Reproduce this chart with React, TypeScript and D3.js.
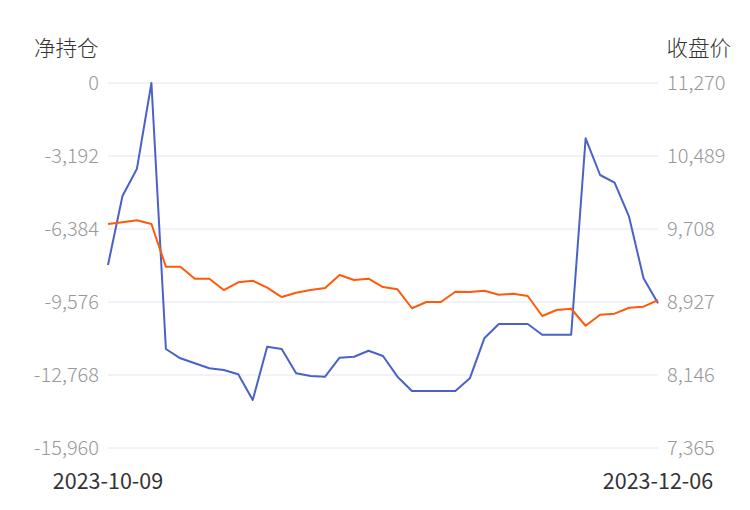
import React from "react";
import * as d3 from "d3";

const dates: string[] = [
  "2023-10-09","2023-10-10","2023-10-11","2023-10-12","2023-10-13","2023-10-16","2023-10-17","2023-10-18","2023-10-19","2023-10-20",
  "2023-10-23","2023-10-24","2023-10-25","2023-10-26","2023-10-27","2023-10-30","2023-10-31","2023-11-01","2023-11-02","2023-11-03",
  "2023-11-06","2023-11-07","2023-11-08","2023-11-09","2023-11-10","2023-11-13","2023-11-14","2023-11-15","2023-11-16","2023-11-17",
  "2023-11-20","2023-11-21","2023-11-22","2023-11-23","2023-11-24","2023-11-29","2023-11-30","2023-12-05","2023-12-06"
];

const netPosition: number[] = [
  -7958, -4941, -3747, 0, -11631, -12038, -12256, -12475, -12549, -12737,
  -13861, -11531, -11631, -12694, -12812, -12842, -12011, -11968, -11706, -11937,
  -12842, -13468, -13468, -13468, -13468, -12912, -11163, -10538, -10538, -10538,
  -11006, -11006, -11006, -2418, -4023, -4360, -5846, -8540, -9633
];

const closePrice: number[] = [
  9761, 9780, 9801, 9761, 9305, 9305, 9176, 9176, 9055, 9138,
  9155, 9080, 8980, 9026, 9055, 9077, 9216, 9162, 9176, 9087,
  9063, 8860, 8927, 8927, 9037, 9034, 9048, 9005, 9016, 8991,
  8777, 8841, 8855, 8673, 8791, 8802, 8866, 8877, 8948
];

const leftTicks: number[] = [0, -3192, -6384, -9576, -12768, -15960];
const rightTicks: number[] = [11270, 10489, 9708, 8927, 8146, 7365];

const W = 750, H = 510;
const L = 108, R = 658, T = 83, B = 448;

export default function App() {
  const x = d3.scalePoint<string>().domain(dates).range([L, R]);
  const yL = d3.scaleLinear().domain([-15960, 0]).range([B, T]);
  const yR = d3.scaleLinear().domain([7365, 11270]).range([B, T]);
  const f = d3.format(",");
  const fmt = (v: number) => f(v).replace("\u2212", "-");
  const lineL = d3.line<number>().x((_, i) => x(dates[i])!).y((d) => yL(d));
  const lineR = d3.line<number>().x((_, i) => x(dates[i])!).y((d) => yR(d));
  const font = "'Noto Sans CJK SC', 'Noto Sans', sans-serif";
  return (
    <svg width={W} height={H} style={{ position: "absolute", left: 0, top: 0 }} fontFamily={font}>
      <rect width={W} height={H} fill="#fff" />
      {leftTicks.map((t) => (
        <line key={t} x1={L} x2={R} y1={yL(t)} y2={yL(t)} stroke="#E0E6F1" strokeWidth={1} />
      ))}
      {leftTicks.map((t) => (
        <text key={"l" + t} x={99} y={yL(t)} dy="0.35em" textAnchor="end" fontSize={20} fill="#999" fontWeight={300}>
          {fmt(t)}
        </text>
      ))}
      {rightTicks.map((t) => (
        <text key={"r" + t} x={667} y={yR(t)} dy="0.35em" textAnchor="start" fontSize={20} fill="#999" fontWeight={300}>
          {fmt(t)}
        </text>
      ))}
      <text x={34} y={56} fontSize={21.5} fill="#333" fontWeight={300}>净持仓</text>
      <text x={731} y={56} fontSize={21.5} fill="#333" fontWeight={300} textAnchor="end">收盘价</text>
      <text x={x(dates[0])} y={489} fontSize={21.5} fill="#333" textAnchor="middle">{dates[0]}</text>
      <text x={x(dates[dates.length - 1])} y={489} fontSize={21.5} fill="#333" textAnchor="middle">{dates[dates.length - 1]}</text>
      <path d={lineL(netPosition)!} fill="none" stroke="#4A62C8" strokeWidth={2} strokeLinejoin="round" />
      <path d={lineR(closePrice)!} fill="none" stroke="#FF5A0A" strokeWidth={2} strokeLinejoin="round" />
    </svg>
  );
}
